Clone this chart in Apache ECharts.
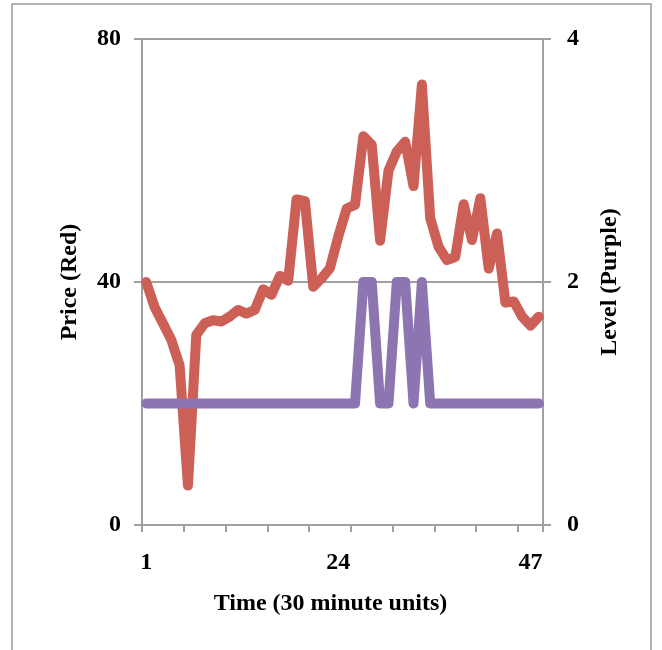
<!DOCTYPE html>
<html>
<head>
<meta charset="utf-8">
<script src="https://cdn.jsdelivr.net/npm/echarts@6/dist/echarts.min.js"></script>
<style>
html,body{margin:0;padding:0;background:#fff;}
#chart{width:662px;height:650px;}
</style>
</head>
<body>
<div id="chart"></div>
<script>
var categories = [];
for (var k = 1; k <= 48; k++) categories.push(String(k));

var price = [40, 35.9, 33.2, 30.5, 26.3, 6.5, 31.3, 33.2, 33.7, 33.5, 34.3, 35.4,
  34.8, 35.4, 38.8, 37.9, 41.0, 40.2, 53.6, 53.3, 39.2, 40.6, 42.3, 47.5,
  52.1, 52.7, 64.0, 62.6, 46.8, 58.3, 61.5, 63.1, 55.8, 72.5, 50.5, 45.8,
  43.6, 44.1, 52.8, 46.9, 53.8, 42.2, 48.0, 36.6, 36.8, 34.3, 32.8, 34.3];

var level = [1, 1, 1, 1, 1, 1, 1, 1, 1, 1, 1, 1,
  1, 1, 1, 1, 1, 1, 1, 1, 1, 1, 1, 1,
  1, 1, 2, 2, 1, 1, 2, 2, 1, 2, 1, 1,
  1, 1, 1, 1, 1, 1, 1, 1, 1, 1, 1, 1];

var shownXLabels = ['1', '24', '47'];
var leftTicks = [0, 40, 80];
var rightTicks = [0, 2, 4];

var FONT = 'Liberation Serif';
var AX = '#a0a0a0';

var chart = echarts.init(document.getElementById('chart'), null, {renderer: 'canvas'});
chart.setOption({
  animation: false,
  backgroundColor: '#fff',
  grid: {left: 142, right: 119, top: 39, bottom: 125, containLabel: false},
  graphic: [{
    type: 'rect',
    shape: {x: 12, y: 4, width: 639, height: 720},
    style: {fill: 'none', stroke: '#9a9a9a', lineWidth: 1.5},
    silent: true
  }],
  xAxis: {
    type: 'category',
    data: categories,
    boundaryGap: true,
    name: 'Time (30 minute units)',
    nameLocation: 'middle',
    nameGap: 67,
    nameTextStyle: {fontFamily: FONT, fontWeight: 'bold', fontSize: 24, color: '#000', padding: [0, 24, 0, 0]},
    axisLine: {show: true, lineStyle: {color: AX, width: 2}},
    axisTick: {show: true, interval: 4, length: 7, lineStyle: {color: AX, width: 2}},
    axisLabel: {
      interval: function (i, v) { return shownXLabels.indexOf(v) >= 0; },
      margin: 26, fontFamily: FONT, fontWeight: 'bold', fontSize: 24, color: '#000'
    },
    splitLine: {show: false}
  },
  yAxis: [{
    type: 'value',
    min: leftTicks[0], max: leftTicks[2], interval: 40,
    position: 'left',
    name: 'Price (Red)',
    nameLocation: 'middle',
    nameRotate: 90,
    nameGap: 60,
    nameTextStyle: {fontFamily: FONT, fontWeight: 'bold', fontSize: 24, color: '#000'},
    axisLine: {show: true, lineStyle: {color: AX, width: 2}},
    axisTick: {show: true, length: 8, lineStyle: {color: AX, width: 2}},
    axisLabel: {margin: 21, fontFamily: FONT, fontWeight: 'bold', fontSize: 24, color: '#000'},
    splitLine: {show: true, lineStyle: {color: AX, width: 2}}
  }, {
    type: 'value',
    min: rightTicks[0], max: rightTicks[2], interval: 2,
    position: 'right',
    name: 'Level (Purple)',
    nameLocation: 'middle',
    nameRotate: 90,
    nameGap: 55,
    nameTextStyle: {fontFamily: FONT, fontWeight: 'bold', fontSize: 24, color: '#000'},
    axisLine: {show: true, lineStyle: {color: AX, width: 2}},
    axisTick: {show: true, length: 8, lineStyle: {color: AX, width: 2}},
    axisLabel: {margin: 24, fontFamily: FONT, fontWeight: 'bold', fontSize: 24, color: '#000'},
    splitLine: {show: false}
  }],
  series: [{
    name: 'Price',
    type: 'line',
    yAxisIndex: 0,
    data: price,
    symbol: 'none',
    lineStyle: {color: '#cd6056', width: 10, cap: 'round', join: 'round'},
    z: 2
  }, {
    name: 'Level',
    type: 'line',
    yAxisIndex: 1,
    data: level,
    symbol: 'none',
    lineStyle: {color: '#8c75b0', width: 10, cap: 'round', join: 'round'},
    z: 3
  }]
});
</script>
</body>
</html>
